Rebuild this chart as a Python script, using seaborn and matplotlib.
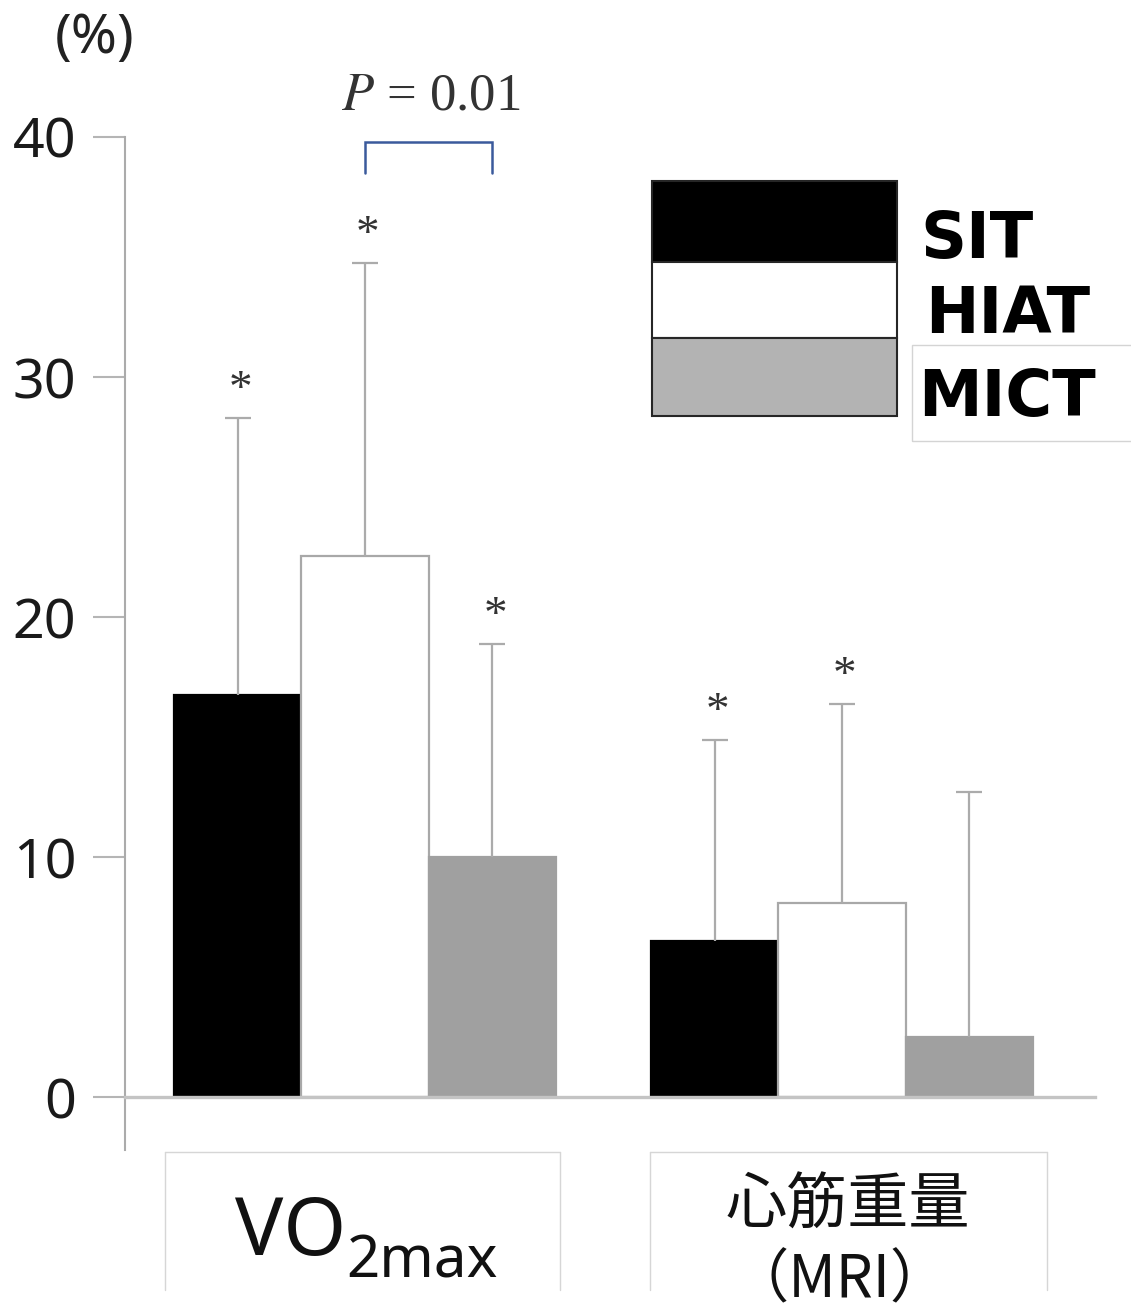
import numpy as np
import pandas as pd
import matplotlib
matplotlib.use("Agg")
import matplotlib.pyplot as plt
from matplotlib.patches import Rectangle
from matplotlib.lines import Line2D
import seaborn as sns

# ---------------- data ----------------
measures = ["VO2max", "心筋重量"]
groups = ["SIT", "HIAT", "MICT"]
sit_mean = [16.75, 6.5]
hiat_mean = [22.55, 8.1]
mict_mean = [10.0, 2.5]
sit_sd = [11.55, 8.4]
hiat_sd = [12.2, 8.3]
mict_sd = [8.9, 10.2]
sit_sig = [True, True]
hiat_sig = [True, True]
mict_sig = [True, False]
yticks = [0, 10, 20, 30, 40]
p_label = "0.01"

colors = ["#000000", "#ffffff", "#a0a0a0"]
legend_colors = ["#000000", "#ffffff", "#b3b3b3"]

df = pd.DataFrame({
    "measure": measures * 3,
    "group": [g for g in groups for _ in measures],
    "value": sit_mean + hiat_mean + mict_mean,
})
sds = [sit_sd, hiat_sd, mict_sd]
sigs = [sit_sig, hiat_sig, mict_sig]

# ---------------- figure ----------------
sns.set_style("ticks")
plt.rcParams["font.family"] = ["Noto Sans", "Noto Sans CJK JP", "DejaVu Sans"]
plt.rcParams["mathtext.fontset"] = "stix"

W, H = 1131, 1314
fig = plt.figure(figsize=(W / 100, H / 100), dpi=100)
fig.patch.set_facecolor("white")

def fx(px):
    return px / W

def fy(py):
    return 1 - py / H

ax = fig.add_axes([125 / W, (H - 1150) / H, 970 / W, 1013 / H])
sns.barplot(data=df, x="measure", y="value", hue="group", order=measures,
            hue_order=groups, palette=colors, width=0.8, gap=0,
            errorbar=None, legend=False, saturation=1, ax=ax)

ax.set_xlim(-0.5031, 1.5304)
ax.set_ylim(-2.2, 40)

bar_containers = list(ax.containers[:3])
edgecols = ["#000000", "#a8a8a8", "#a0a0a0"]
for cont, ec in zip(bar_containers, edgecols):
    for p in cont:
        p.set_edgecolor(ec)
        p.set_linewidth(1.6)

# error bars (upper only) and asterisks
for gi, cont in enumerate(bar_containers):
    xs = [p.get_x() + p.get_width() / 2 for p in cont]
    ys = [p.get_height() for p in cont]
    sd = sds[gi]
    eb = ax.errorbar(xs, ys, yerr=[np.zeros(len(sd)), sd], fmt="none",
                     ecolor="#ababab", elinewidth=1.6, capsize=9.4,
                     capthick=1.6, zorder=3)
    for cl in eb[1]:
        if np.allclose(cl.get_ydata(), ys):
            cl.set_visible(False)
    for x, y, s, sg in zip(xs, ys, sd, sigs[gi]):
        if sg:
            ax.text(x + 0.006, y + s + 1.12, "*", ha="center", va="center",
                    fontsize=34, color="#333333", family="Liberation Serif")

# significance bracket between HIAT and MICT for VO2max
x1 = bar_containers[1][0].get_x() + bar_containers[1][0].get_width() / 2
x2 = bar_containers[2][0].get_x() + bar_containers[2][0].get_width() / 2
ax.plot([x1, x1, x2, x2], [38.5, 39.8, 39.8, 38.5], color="#3b5a9c",
        lw=1.8, clip_on=False, zorder=4, solid_joinstyle="miter")
ax.text((x1 + x2) / 2 + 0.005, 41.7, r"$P$ = " + p_label, ha="center", va="center",
        fontsize=38, color="#333333", family="Liberation Serif", clip_on=False)

# axes styling
for s in ["top", "right"]:
    ax.spines[s].set_visible(False)
ax.spines["bottom"].set_position(("data", 0))
ax.spines["bottom"].set_color("#c4c4c4")
ax.spines["bottom"].set_linewidth(2.4)
ax.spines["left"].set_color("#ababab")
ax.spines["left"].set_linewidth(1.5)
ax.spines["left"].set_bounds(-2.2, 40)
ax.set_yticks(yticks)
ax.set_yticklabels([str(t) for t in yticks])
ax.tick_params(axis="y", length=23, width=1.5, color="#b5b5b5", pad=12,
               labelsize=40, labelcolor="#1a1a1a")
ax.tick_params(axis="x", length=0, labelbottom=False)
ax.set_xlabel("")
ax.set_ylabel("")

fig.text(fx(95), fy(38), "(%)", ha="center", va="center", fontsize=40,
         color="#222222")

# legend (stacked swatches)
swatch_y = [181, 262, 338, 416]
for i, g in enumerate(groups):
    fig.patches.append(Rectangle((fx(652), fy(swatch_y[i + 1])), fx(897) - fx(652),
                                 fy(swatch_y[i]) - fy(swatch_y[i + 1]),
                                 transform=fig.transFigure, facecolor=legend_colors[i],
                                 edgecolor="#262626", lw=1.5, zorder=3))
label_pos = [(920, 258), (925, 333), (918, 416)]
for g, (lx, ly) in zip(groups, label_pos):
    fig.text(fx(lx), fy(ly), g, ha="left", va="baseline", fontsize=46,
             fontweight="bold", family="DejaVu Sans", color="#000000")
fig.patches.append(Rectangle((fx(912), fy(441)), fx(1140) - fx(912), fy(345) - fy(441),
                             transform=fig.transFigure, facecolor="none",
                             edgecolor="#d4d4d4", lw=1.0, zorder=2))

# category label boxes
for (l, r) in [(165, 560), (650, 1047)]:
    for xs_, ys_ in [([l, r], [1152, 1152]), ([l, l], [1152, 1290]), ([r, r], [1152, 1290])]:
        fig.lines.append(Line2D([fx(v) for v in xs_], [fy(v) for v in ys_],
                                transform=fig.transFigure, color="#d6d6d6", lw=1.0))

fig.text(fx(235), fy(1255), "VO", ha="left", va="baseline",
         fontsize=58, color="#111111", family="Noto Sans")
fig.text(fx(346), fy(1278), "2max", ha="left", va="baseline",
         fontsize=42, color="#111111", family="Noto Sans")
fig.text(fx(848), fy(1206), "心筋重量", ha="center", va="center", fontsize=44,
         color="#111111", family=["Noto Sans CJK JP"])
fig.text(fx(840), fy(1281), "（MRI）", ha="center", va="center", fontsize=42,
         color="#111111", family=["Noto Sans CJK JP"])

fig.savefig("out.png", dpi=100, facecolor="white")
